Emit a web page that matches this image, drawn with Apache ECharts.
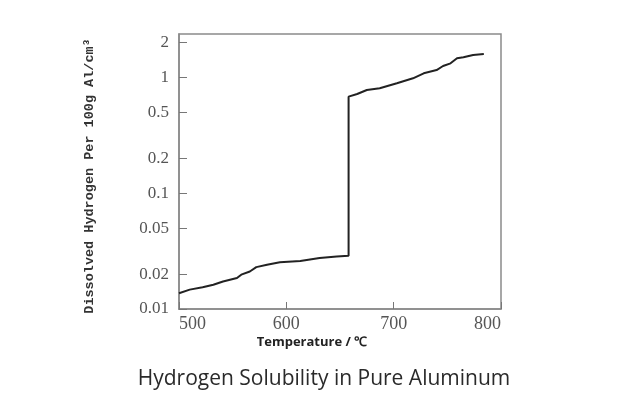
<!DOCTYPE html>
<html>
<head>
<meta charset="utf-8">
<script src="https://cdn.jsdelivr.net/npm/echarts@6/dist/echarts.min.js"></script>
<style>
  html, body { margin: 0; padding: 0; background: #fff; }
  #chart { width: 637px; height: 406px; }
</style>
</head>
<body>
<div id="chart"></div>
<script>
// temperature (°C) and dissolved hydrogen (cm3 / 100g Al)
const solidTemp = [500, 510, 522, 532, 541, 554, 558, 566, 572, 582, 594, 613, 631, 647, 658]
const solidH2 = [0.0137, 0.0147, 0.0154, 0.0162, 0.0173, 0.0185, 0.0198, 0.0211, 0.0230, 0.0241, 0.0253, 0.0260, 0.0276, 0.0284, 0.0288]
const liquidTemp = [658, 666, 675, 687, 703, 718, 728, 740, 746, 753, 759, 765, 774, 784]
const liquidH2 = [0.684, 0.721, 0.781, 0.808, 0.893, 0.986, 1.089, 1.162, 1.259, 1.328, 1.467, 1.496, 1.566, 1.597]
const yTicks = [0.01, 0.02, 0.05, 0.1, 0.2, 0.5, 1, 2]
const xTicks = [500, 600, 700, 800]

const curve = solidTemp.map((t, i) => [t, solidH2[i]])
  .concat(liquidTemp.map((t, i) => [t, liquidH2[i]]))

const chart = echarts.init(document.getElementById('chart'))
chart.setOption({
  animation: false,
  grid: {
    left: 179, right: 136, top: 34, bottom: 97,
    show: true, borderColor: '#8a8a8a', borderWidth: 1.5
  },
  title: {
    text: 'Hydrogen Solubility in Pure Aluminum',
    left: 319, top: 364, textAlign: 'center',
    textStyle: { fontFamily: 'Open Sans', fontSize: 21, fontWeight: 'normal', color: '#2a2a2a' }
  },
  graphic: [
    {
      type: 'text', x: 312, y: 342,
      style: {
        text: 'Temperature / ℃', fontFamily: 'Open Sans', fontSize: 13, fontWeight: 'bold',
        fill: '#222', textAlign: 'center', textVerticalAlign: 'middle'
      }
    },
    {
      type: 'text', x: 90, y: 176, rotation: Math.PI / 2,
      style: {
        text: 'Dissolved Hydrogen Per 100g Al/cm³', fontFamily: 'Liberation Mono', fontSize: 13.5, fontWeight: 'bold',
        fill: '#333', textAlign: 'center', textVerticalAlign: 'middle'
      }
    }
  ],
  xAxis: {
    type: 'value', min: 500, max: 800, interval: 100,
    splitLine: { show: false },
    axisLine: { lineStyle: { color: '#8a8a8a', width: 1.5 } },
    axisTick: { inside: true, length: 7, customValues: xTicks, lineStyle: { color: '#777' } },
    axisLabel: {
      customValues: xTicks, margin: 6, alignMinLabel: 'left', alignMaxLabel: 'right',
      fontFamily: 'Liberation Serif', fontSize: 18, color: '#555'
    }
  },
  yAxis: {
    type: 'log', logBase: 10, min: 0.01, max: 2.38,
    splitLine: { show: false },
    axisLine: { show: true, lineStyle: { color: '#8a8a8a', width: 1.5 } },
    axisTick: { inside: true, length: 8, customValues: yTicks, lineStyle: { color: '#777' } },
    axisLabel: {
      customValues: yTicks, margin: 10,
      formatter: v => String(+v.toPrecision(3)),
      fontFamily: 'Liberation Serif', fontSize: 17, color: '#555'
    }
  },
  series: [{
    type: 'line', data: curve, showSymbol: false,
    lineStyle: { color: '#222', width: 2 }
  }]
})
</script>
</body>
</html>
